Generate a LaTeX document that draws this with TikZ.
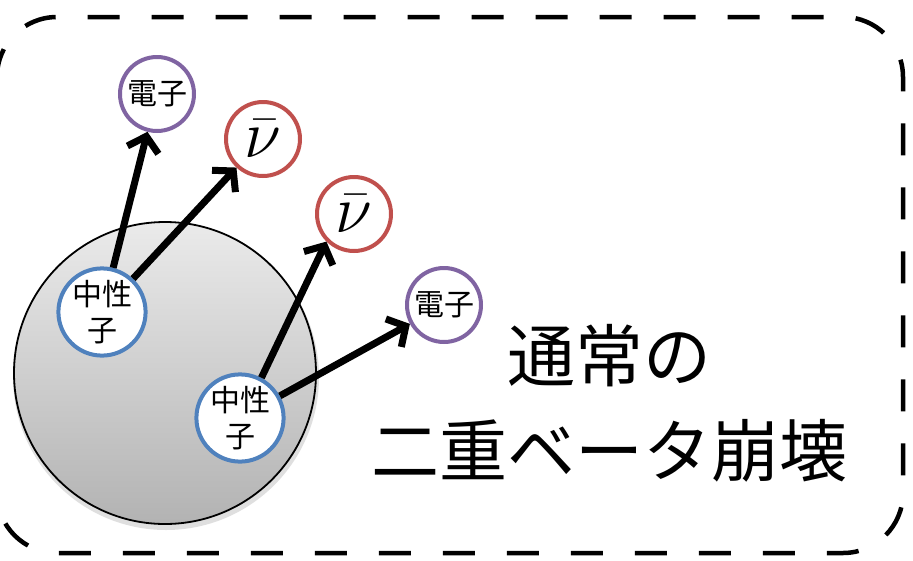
\documentclass[tikz,border=0pt]{standalone}
\usepackage{fontspec}
\newfontfamily\jp{Noto Sans CJK JP}
\usetikzlibrary{arrows.meta}
\definecolor{epurple}{HTML}{8064A2}
\definecolor{nured}{HTML}{C0504D}
\definecolor{nblue}{HTML}{4F81BD}
\newcommand{\bignubar}{\scalebox{2.7}{$\bar{\nu}$}}
\begin{document}
\begin{tikzpicture}[x={(1pt,0)},y={(0,-1pt)},
  particle/.style={circle,draw,line width=4pt,fill=white,inner sep=0pt,minimum size=74pt,font=\fontsize{30}{36}\selectfont\jp},
  electron/.style={particle,draw=epurple},
  antinu/.style={particle,draw=nured},
  neutron/.style={particle,draw=nblue,minimum size=86pt,align=center},
  emit/.style={line width=7pt,-{Straight Barb[length=14pt,width=32pt]}},
  frame/.style={line width=4.5pt,dash pattern=on 32pt off 32pt,rounded corners=60pt}]
\useasboundingbox (0,0) rectangle (913,560);
\draw[frame] (-3,17) rectangle (903,553);
% nucleus
\fill[black!25,opacity=0.5] (166,377) circle (153);
\shade[top color=black!8,bottom color=black!30,draw=black,line width=1.8pt] (165,373) circle (151);
% particles
\node[electron] (e1) at (157,94) {電子};
\node[antinu] (nu1) at (263,139) {\bignubar};
\node[antinu] (nu2) at (354,214) {\bignubar};
\node[electron] (e2) at (444,305) {電子};
\node[neutron] (n1) at (102,312) {中性\\子};
\node[neutron] (n2) at (240,418) {中性\\子};
\draw[emit] (n1) -- (e1);
\draw[emit] (n1) -- (nu1);
\draw[emit] (n2.62) -- (nu2.225);
\draw[emit] (n2) -- (e2);
\node[font=\fontsize{68}{95}\selectfont\jp,align=center] (title) at (609,403) {通常の\\二重ベータ崩壊};
\end{tikzpicture}
\end{document}
